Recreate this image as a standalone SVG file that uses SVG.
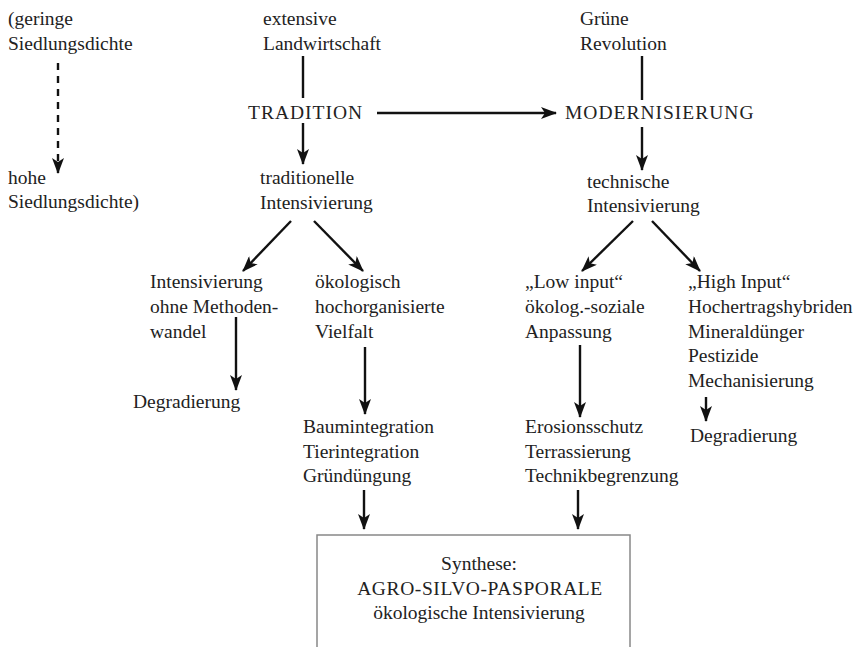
<svg xmlns="http://www.w3.org/2000/svg" width="862" height="647" viewBox="0 0 862 647">
<style>
text{font-family:"Liberation Serif","DejaVu Serif",serif;font-size:19.5px;fill:#222}
.c{text-anchor:middle}
.caps{letter-spacing:1px}
.ln{stroke:#111;stroke-width:2.4;fill:none}
.dash{stroke-dasharray:7 6}
</style>
<defs>
<marker id="ah" viewBox="0 0 16 12" refX="15" refY="6" markerWidth="16" markerHeight="12" markerUnits="userSpaceOnUse" orient="auto">
<path d="M0,0 L16,6 L0,12 L4,6 z" fill="#111"/>
</marker>
</defs>
<rect width="862" height="647" fill="#fff"/>
<g id="connectors">
<line class="ln dash" x1="58" y1="63" x2="58" y2="173" marker-end="url(#ah)"/>
<line class="ln" x1="303" y1="56" x2="303" y2="98"/>
<line class="ln" x1="377" y1="113" x2="556" y2="113" marker-end="url(#ah)"/>
<line class="ln" x1="303" y1="123" x2="303" y2="164" marker-end="url(#ah)"/>
<line class="ln" x1="642" y1="56" x2="642" y2="100"/>
<line class="ln" x1="642" y1="127" x2="642" y2="170" marker-end="url(#ah)"/>
<line class="ln" x1="291" y1="221" x2="243" y2="271" marker-end="url(#ah)"/>
<line class="ln" x1="314" y1="221" x2="363" y2="271" marker-end="url(#ah)"/>
<line class="ln" x1="633" y1="221" x2="582" y2="271" marker-end="url(#ah)"/>
<line class="ln" x1="652" y1="221" x2="700" y2="271" marker-end="url(#ah)"/>
<line class="ln" x1="236" y1="317" x2="236" y2="390" marker-end="url(#ah)"/>
<line class="ln" x1="365" y1="347" x2="365" y2="414" marker-end="url(#ah)"/>
<line class="ln" x1="580" y1="345" x2="580" y2="417" marker-end="url(#ah)"/>
<line class="ln" x1="706" y1="397" x2="706" y2="421" marker-end="url(#ah)"/>
<line class="ln" x1="364" y1="490" x2="364" y2="529" marker-end="url(#ah)"/>
<line class="ln" x1="578" y1="490" x2="578" y2="529" marker-end="url(#ah)"/>
</g>
<g id="n-geringe"><text x="8" y="25">(geringe</text><text x="8" y="50">Siedlungsdichte</text></g>
<g id="n-hohe"><text x="8" y="184">hohe</text><text x="8" y="208">Siedlungsdichte)</text></g>
<g id="n-extensive"><text x="263" y="25">extensive</text><text x="263" y="50">Landwirtschaft</text></g>
<g id="n-tradition"><text class="caps" x="248" y="119">TRADITION</text></g>
<g id="n-trad-int"><text x="260" y="184">traditionelle</text><text x="260" y="209">Intensivierung</text></g>
<g id="n-gruene"><text x="580" y="25">Grüne</text><text x="580" y="50">Revolution</text></g>
<g id="n-modern"><text class="caps" x="565" y="119">MODERNISIERUNG</text></g>
<g id="n-tech-int"><text x="587" y="188">technische</text><text x="587" y="212">Intensivierung</text></g>
<g id="n-ohne"><text x="150" y="288">Intensivierung</text><text x="150" y="313">ohne Methoden-</text><text x="150" y="338">wandel</text></g>
<g id="n-degr1"><text x="133" y="408">Degradierung</text></g>
<g id="n-oeko"><text x="315" y="288">ökologisch</text><text x="315" y="313">hochorganisierte</text><text x="315" y="338">Vielfalt</text></g>
<g id="n-baum"><text x="303" y="433">Baumintegration</text><text x="303" y="458">Tierintegration</text><text x="303" y="482">Gründüngung</text></g>
<g id="n-low"><text x="525" y="288">„Low input“</text><text x="525" y="313">ökolog.-soziale</text><text x="525" y="338">Anpassung</text></g>
<g id="n-erosion"><text x="525" y="433">Erosionsschutz</text><text x="525" y="458">Terrassierung</text><text x="525" y="482">Technikbegrenzung</text></g>
<g id="n-high"><text x="688" y="288">„High Input“</text><text x="688" y="313">Hochertragshybriden</text><text x="688" y="338">Mineraldünger</text><text x="688" y="362">Pestizide</text><text x="688" y="387">Mechanisierung</text></g>
<g id="n-degr2"><text x="690" y="442">Degradierung</text></g>
<g id="n-synthese">
<rect x="317" y="535" width="313" height="130" fill="#fff" stroke="#888" stroke-width="1.5"/>
<text class="c" x="479" y="570">Synthese:</text>
<text class="c caps" x="480" y="595" style="letter-spacing:0.6px">AGRO-SILVO-PASPORALE</text>
<text class="c" x="479" y="619">ökologische Intensivierung</text>
</g>
</svg>
